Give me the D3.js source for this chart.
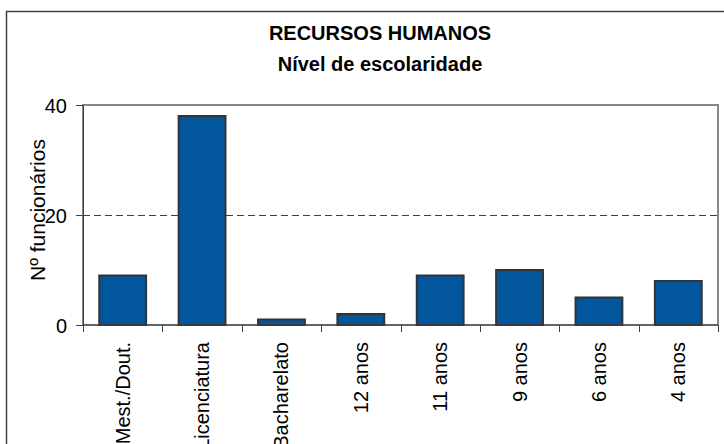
<!DOCTYPE html>
<html>
<head>
<meta charset="utf-8">
<script src="https://cdn.jsdelivr.net/npm/d3@7"></script>
<style>
	body { margin: 0; background: #fff; }
	text { font-family: "Liberation Sans", Arial, sans-serif; }
</style>
</head>
<body>
<svg id="chart" width="724" height="444"></svg>
<script>

// data
var categories = ["Mest./Dout.", "Licenciatura", "Bacharelato", "12 anos", "11 anos", "9 anos", "6 anos", "4 anos"];
var values = [9, 38, 1, 2, 9, 10, 5, 8];
var yTicks = [0, 20, 40];
var titleLines = ["RECURSOS HUMANOS", "Nível de escolaridade"];
var yTitle = "Nº funcionários";

var svg = d3.select("#chart");

var plot = {left: 83, right: 718, top: 105, bottom: 325};

// outer chart frame (runs off the right and bottom edge)
svg.append("rect")
.attr("x", 6.5)
.attr("y", 11.5)
.attr("width", 730)
.attr("height", 450)
.attr("fill", "#fff")
.attr("stroke", "#404040")
.attr("stroke-width", 1.5);

svg.selectAll(".title")
.data(titleLines)
.enter().append("text")
.attr("class", "title")
.attr("x", 380)
.attr("y", function (d, i) { return 40 + i * 31; })
.style("font-size", "20px")
.style("font-weight", "bold")
.style("text-anchor", "middle")
.text(function (d) { return d; });

var x = d3.scaleBand()
.domain(categories)
.range([plot.left, plot.right])
.paddingInner(0.41)
.paddingOuter(0.205);

var y = d3.scaleLinear()
.domain([0, 40])
.range([plot.bottom, plot.top]);

// plot area border
svg.append("rect")
.attr("x", plot.left)
.attr("y", plot.top)
.attr("width", plot.right - plot.left)
.attr("height", plot.bottom - plot.top)
.attr("fill", "none")
.attr("stroke", "#888")
.attr("stroke-width", 2);

// dashed gridline
svg.selectAll(".grid")
.data(yTicks.filter(function (t) { return t > 0 && t < 40; }))
.enter().append("line")
.attr("class", "grid")
.attr("x1", plot.left)
.attr("x2", plot.right)
.attr("y1", function (d) { return y(d) + 0.5; })
.attr("y2", function (d) { return y(d) + 0.5; })
.attr("stroke", "#404040")
.attr("stroke-dasharray", "7,4");

svg.selectAll(".bar")
.data(values)
.enter().append("rect")
.attr("class", "bar")
.attr("x", function (d, i) { return x(categories[i]); })
.attr("y", function (d) { return y(d); })
.attr("width", x.bandwidth())
.attr("height", function (d) { return y(0) - y(d); })
.attr("fill", "#02569e")
.attr("stroke", "#333")
.attr("stroke-width", 2);

// y axis
var yAxis = svg.append("g")
.attr("transform", "translate(" + plot.left + ",0)")
.call(d3.axisLeft(y).tickValues(yTicks).tickSize(7).tickPadding(9));

yAxis.select(".domain").attr("stroke", "#404040");
yAxis.selectAll(".tick line").attr("stroke", "#404040");
yAxis.selectAll("text")
.style("font-size", "20px")
.attr("fill", "#000")
.attr("dy", "0.35em");

// x axis: ticks on band boundaries
var xAxis = svg.append("g")
.attr("transform", "translate(0," + plot.bottom + ")");

xAxis.append("line")
.attr("x1", plot.left)
.attr("x2", plot.right)
.attr("stroke", "#404040");

var bounds = categories.map(function (c) { return x(c) - x.step() * x.paddingInner() / 2; });
bounds.push(plot.right);

xAxis.selectAll(".xtick")
.data(bounds)
.enter().append("line")
.attr("class", "xtick")
.attr("x1", function (d) { return Math.round(d) + 0.5; })
.attr("x2", function (d) { return Math.round(d) + 0.5; })
.attr("y1", 0)
.attr("y2", 7)
.attr("stroke", "#404040");

svg.selectAll(".xlabel")
.data(categories)
.enter().append("text")
.attr("class", "xlabel")
.attr("transform", function (d) {
	return "translate(" + (x(d) + x.bandwidth() / 2) + ",342) rotate(-90)";
})
.attr("dy", "0.35em")
.style("font-size", "20px")
.style("text-anchor", "end")
.text(function (d) { return d; });

svg.append("text")
.attr("transform", "translate(45,210) rotate(-90)")
.style("font-size", "21px")
.style("text-anchor", "middle")
.text(yTitle);

</script>
</body>
</html>
